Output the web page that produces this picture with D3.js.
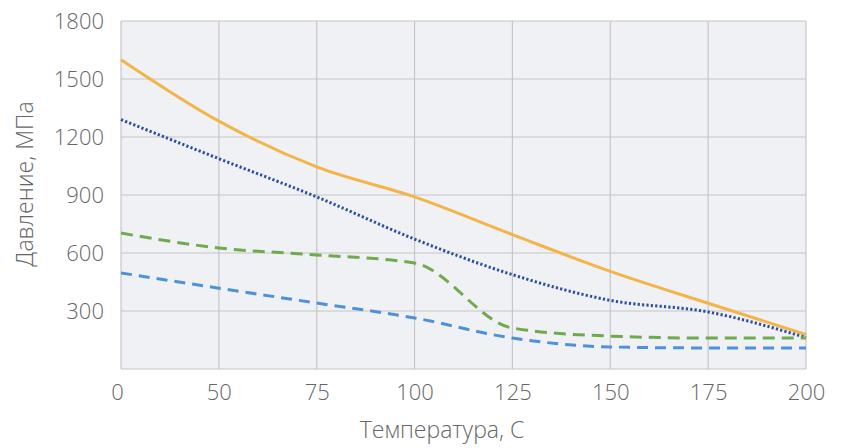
<!DOCTYPE html>
<html>
<head>
<meta charset="utf-8">
<script src="https://cdn.jsdelivr.net/npm/d3@7"></script>
<style>
  body { margin: 0; background: #fff; }
  svg text { font-family: "Open Sans", "Noto Sans", sans-serif; font-weight: 300; fill: #666; }
</style>
</head>
<body>
<script>
// data
const temps = ["0", "50", "75", "100", "125", "150", "175", "200"];
const yTicks = [300, 600, 900, 1200, 1500, 1800];
const orangeVals = [1600, 1282, 1045, 890, 695, 505, 340, 178];
const dotVals = [1290, 1088, 890, 672, 488, 355, 295, 163];
const greenVals = [703, 626, 590, 548, 212, 170, 160, 160];
const lblueVals = [497, 418, 341, 264, 160, 114, 109, 109];

const series = [
  { vals: orangeVals, color: "#f3b54a", dash: null, width: 3 },
  { vals: dotVals, color: "#2b4fa0", dash: "2.2,2.2", width: 3 },
  { vals: greenVals, color: "#6faa4e", dash: "12,7", width: 3 },
  { vals: lblueVals, color: "#4d92d8", dash: "11,7", width: 3 }
];

const W = 841, H = 448;
const margin = { top: 21, right: 35, bottom: 79, left: 121 };
const width = W - margin.left - margin.right,
      height = H - margin.top - margin.bottom;

const svg = d3.select("body").append("svg")
    .attr("width", W)
    .attr("height", H);

const g = svg.append("g")
    .attr("transform", "translate(" + margin.left + "," + margin.top + ")");

const x = d3.scalePoint().domain(temps).range([0, width]);
const y = d3.scaleLinear().domain([0, 1800]).range([height, 0]);

// plot background
g.append("rect")
    .attr("width", width)
    .attr("height", height)
    .attr("fill", "#f0f1f4");

// grid
g.selectAll(".vgrid").data(temps).enter().append("line")
    .attr("x1", d => x(d)).attr("x2", d => x(d))
    .attr("y1", 0).attr("y2", height)
    .attr("stroke", "#c6c6c8").attr("stroke-width", 1.2);

g.selectAll(".hgrid").data([0].concat(yTicks)).enter().append("line")
    .attr("x1", 0).attr("x2", width)
    .attr("y1", d => y(d)).attr("y2", d => y(d))
    .attr("stroke", "#c6c6c8").attr("stroke-width", 1.2);

// axes (labels only)
const xAxis = g.append("g")
    .attr("transform", "translate(0," + height + ")")
    .call(d3.axisBottom(x).tickSize(0).tickPadding(15));
const yAxis = g.append("g")
    .call(d3.axisLeft(y).tickValues(yTicks).tickFormat(d3.format("d")).tickSize(0).tickPadding(17));
[xAxis, yAxis].forEach(a => {
  a.select(".domain").remove();
  a.selectAll("text").style("font-size", "22px").attr("fill", "#666");
});
xAxis.selectAll("text").attr("dx", (d, i) => i === 0 ? "-4px" : "0");

// lines
const line = d3.line()
    .x((d, i) => x(temps[i]))
    .y(d => y(d))
    .curve(d3.curveMonotoneX);

series.forEach(s => {
  g.append("path")
      .datum(s.vals)
      .attr("d", line)
      .attr("fill", "none")
      .attr("stroke", s.color)
      .attr("stroke-width", s.width)
      .attr("stroke-dasharray", s.dash);
});

// axis titles
svg.append("text")
    .attr("x", 442)
    .attr("y", 438)
    .attr("text-anchor", "middle")
    .style("font-size", "23px")
    .attr("fill", "#555")
    .text("Температура, С");

svg.append("text")
    .attr("transform", "translate(33,184) rotate(-90)")
    .attr("text-anchor", "middle")
    .style("font-size", "23px")
    .attr("fill", "#555")
    .text("Давление, МПа");
</script>
</body>
</html>
